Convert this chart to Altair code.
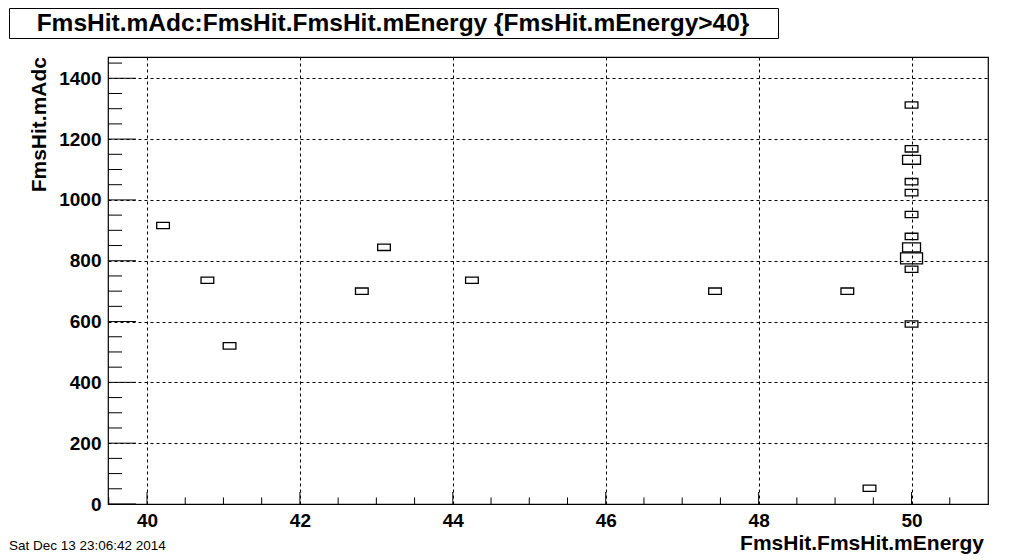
import altair as alt
import pandas as pd

# ---- data (bin centres and bin contents) ----
energy = [40.21, 40.79, 41.08, 42.81, 43.10, 44.25, 47.43, 49.16, 49.45,
          50.0, 50.0, 50.0, 50.0, 50.0, 50.0, 50.0, 50.0, 50.0, 50.0, 50.0]
adc = [916, 736, 520, 700, 844, 736, 700, 700, 52,
       1312, 1168, 1132, 1060, 1024, 952, 880, 844, 808, 772, 592]
counts = [1, 1, 1, 1, 1, 1, 1, 1, 1,
          1, 1, 2, 1, 1, 1, 1, 2, 3, 1, 1]
max_count = 3

x_major = [40, 42, 44, 46, 48, 50]
x_minor = [39.5, 40.5, 41, 41.5, 42.5, 43, 43.5, 44.5, 45, 45.5, 46.5, 47, 47.5,
           48.5, 49, 49.5, 50.5]
y_major = [0, 200, 400, 600, 800, 1000, 1200, 1400]
y_minor = [50, 100, 150, 250, 300, 350, 450, 500, 550, 650, 700, 750, 850, 900, 950,
           1050, 1100, 1150, 1250, 1300, 1350, 1450]

title_text = "FmsHit.mAdc:FmsHit.FmsHit.mEnergy {FmsHit.mEnergy>40}"
x_title = "FmsHit.FmsHit.mEnergy"
y_title = "FmsHit.mAdc"
date_text = "Sat Dec 13 23:06:42 2014"

X_DOMAIN = [39.49, 51.0]
Y_DOMAIN = [0, 1470]
BIN_W = 0.2877
BIN_H = 36.0
W, H = 880, 447
FONT = "Liberation Sans"

xscale = alt.Scale(domain=X_DOMAIN, nice=False, zero=False)
yscale = alt.Scale(domain=Y_DOMAIN, nice=False, zero=False)

hist = pd.DataFrame({"e": energy, "a": adc, "n": counts})

boxes = alt.Chart(hist).transform_calculate(
    f=f"sqrt(datum.n / {max_count})"
).transform_calculate(
    x1=f"datum.e - {BIN_W / 2} * datum.f",
    x2=f"datum.e + {BIN_W / 2} * datum.f",
    y1=f"datum.a - {BIN_H / 2} * datum.f",
    y2=f"datum.a + {BIN_H / 2} * datum.f",
).mark_rect(filled=False, stroke="black", strokeWidth=1.3).encode(
    x=alt.X("x1:Q", scale=xscale,
            axis=alt.Axis(values=x_major, format="d", title=None, grid=True,
                          gridDash=[3, 3], gridColor="black", gridOpacity=1, gridWidth=1,
                          ticks=False, domain=False, labelFont=FONT,
                          labelFontSize=19, labelFontWeight="bold", labelColor="black",
                          labelPadding=7)),
    x2="x2:Q",
    y=alt.Y("y1:Q", scale=yscale,
            axis=alt.Axis(values=y_major, format="d", title=None, grid=True,
                          gridDash=[3, 3], gridColor="black", gridOpacity=1, gridWidth=1,
                          ticks=False, domain=False, labelFont=FONT,
                          labelFontSize=19, labelFontWeight="bold", labelColor="black",
                          labelPadding=7)),
    y2="y2:Q",
)

# inward ticks
xmaj = alt.Chart(pd.DataFrame({"v": x_major})).mark_rule(color="black").encode(
    x=alt.X("v:Q", scale=xscale), y=alt.value(H), y2=alt.value(H - 12))
xmin = alt.Chart(pd.DataFrame({"v": x_minor})).mark_rule(color="black").encode(
    x=alt.X("v:Q", scale=xscale), y=alt.value(H), y2=alt.value(H - 6.5))
ymaj = alt.Chart(pd.DataFrame({"v": y_major})).mark_rule(color="black").encode(
    y=alt.Y("v:Q", scale=yscale), x=alt.value(0), x2=alt.value(28))
ymin = alt.Chart(pd.DataFrame({"v": y_minor})).mark_rule(color="black").encode(
    y=alt.Y("v:Q", scale=yscale), x=alt.value(0), x2=alt.value(14))

one = pd.DataFrame({"t": [title_text]})
title_box = alt.Chart(one).mark_rect(fill="white", stroke="black", strokeWidth=1).encode(
    x=alt.value(-98.5), x2=alt.value(670.5), y=alt.value(-48.5), y2=alt.value(-18.5))
title = alt.Chart(one).mark_text(font=FONT, fontSize=24.5, fontWeight="bold",
                                 align="center", baseline="middle", color="black").encode(
    text="t:N", x=alt.value(285), y=alt.value(-33))

xt = alt.Chart(pd.DataFrame({"t": [x_title]})).mark_text(
    font=FONT, fontSize=21, fontWeight="bold", align="right", baseline="alphabetic",
    color="black").encode(text="t:N", x=alt.value(876), y=alt.value(493))
yt = alt.Chart(pd.DataFrame({"t": [y_title]})).mark_text(
    font=FONT, fontSize=21, fontWeight="bold", align="right", baseline="alphabetic",
    angle=270, color="black").encode(text="t:N", x=alt.value(-62), y=alt.value(0))
dt = alt.Chart(pd.DataFrame({"t": [date_text]})).mark_text(
    font=FONT, fontSize=13.5, align="left", baseline="alphabetic",
    color="black").encode(text="t:N", x=alt.value(-99), y=alt.value(493))

chart = alt.layer(boxes, xmaj, xmin, ymaj, ymin, title_box, title, xt, yt, dt).properties(
    width=W, height=H,
    padding={"left": 100, "top": 49, "right": 20, "bottom": 54},
    autosize=alt.AutoSizeParams(type="none"),
    background="white",
).configure_view(stroke="black", strokeWidth=1.2)

chart.save("out.html", embed_options={"renderer": "svg", "actions": False})
